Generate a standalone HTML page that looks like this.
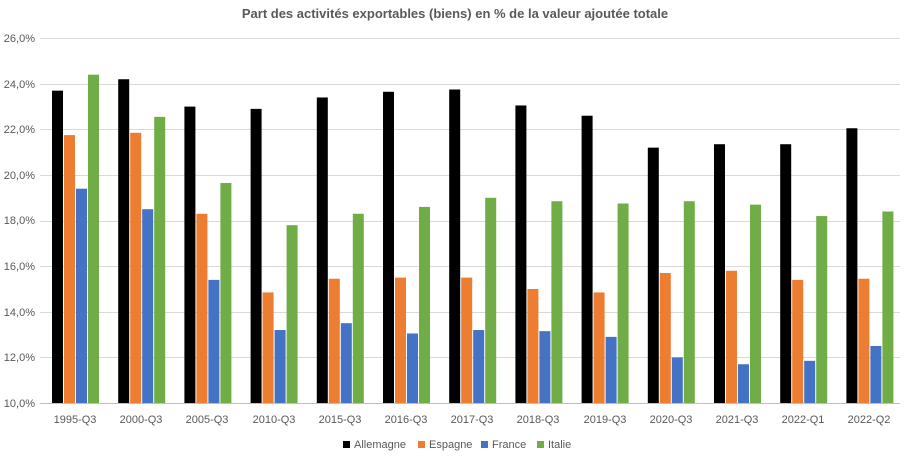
<!DOCTYPE html>
<html><head><meta charset="utf-8"><style>
body{margin:0;background:#fff;}
svg{display:block;font-family:"Liberation Sans",sans-serif;}
</style></head><body>
<svg id="c" width="910" height="456" xmlns="http://www.w3.org/2000/svg">
<rect width="910" height="456" fill="#fff"/>
<text x="455" y="18" text-anchor="middle" font-size="13" font-weight="bold" fill="#595959">Part des activités exportables (biens)  en % de la valeur ajoutée totale</text>
<g id="grid"></g>
<g font-size="11" fill="#595959" text-anchor="end">
<text x="35" y="42">26,0%</text><text x="35" y="88">24,0%</text><text x="35" y="133">22,0%</text><text x="35" y="179">20,0%</text><text x="35" y="224">18,0%</text><text x="35" y="270">16,0%</text><text x="35" y="316">14,0%</text><text x="35" y="361">12,0%</text><text x="35" y="407">10,0%</text>
</g>
<g id="bars"></g>
<g font-size="11" fill="#595959" text-anchor="middle">
<text x="75" y="423">1995-Q3</text><text x="141" y="423">2000-Q3</text><text x="207" y="423">2005-Q3</text><text x="274" y="423">2010-Q3</text><text x="340" y="423">2015-Q3</text><text x="406" y="423">2016-Q3</text><text x="472" y="423">2017-Q3</text><text x="538" y="423">2018-Q3</text><text x="605" y="423">2019-Q3</text><text x="671" y="423">2020-Q3</text><text x="737" y="423">2021-Q3</text><text x="803" y="423">2022-Q1</text><text x="869" y="423">2022-Q2</text>
</g>
<g font-size="11" fill="#595959">
<rect x="343" y="441" width="7" height="7" fill="#000"/><text x="354" y="448">Allemagne</text>
<rect x="418" y="441" width="7" height="7" fill="#ED7D31"/><text x="429" y="448">Espagne</text>
<rect x="481" y="441" width="7" height="7" fill="#4472C4"/><text x="492" y="448">France</text>
<rect x="537" y="441" width="7" height="7" fill="#70AD47"/><text x="548" y="448">Italie</text>
</g>
</svg>
<script>
var ns="http://www.w3.org/2000/svg";
function y(v){return 403-(v-10)/2*45.6;}
var g=document.getElementById("grid");
for(var i=0;i<9;i++){var l=document.createElementNS(ns,"line");var yy=Math.round(y(10+2*i))+0.5;
l.setAttribute("x1",40);l.setAttribute("x2",900);l.setAttribute("y1",yy);l.setAttribute("y2",yy);
l.setAttribute("stroke",i==0?"#bfbfbf":"#d9d9d9");l.setAttribute("stroke-width",1);g.appendChild(l);}
var d=[[23.7,24.2,23.0,22.9,23.4,23.65,23.75,23.05,22.6,21.2,21.35,21.35,22.05],
[21.75,21.85,18.3,14.85,15.45,15.5,15.5,15.0,14.85,15.7,15.8,15.4,15.45],
[19.4,18.5,15.4,13.2,13.5,13.05,13.2,13.15,12.9,12.0,11.7,11.85,12.5],
[24.4,22.55,19.65,17.8,18.3,18.6,19.0,18.85,18.75,18.85,18.7,18.2,18.4]];
var c=["#000","#ED7D31","#4472C4","#70AD47"];
var b=document.getElementById("bars");
for(var k=0;k<13;k++){var cx=75.5+k*66.2;
for(var s=0;s<4;s++){var r=document.createElementNS(ns,"rect");var x=cx-23.5+s*12;
r.setAttribute("x",x);r.setAttribute("width",11);r.setAttribute("y",y(d[s][k]));
r.setAttribute("height",403-y(d[s][k]));r.setAttribute("fill",c[s]);b.appendChild(r);}}
</script>
</body></html>
